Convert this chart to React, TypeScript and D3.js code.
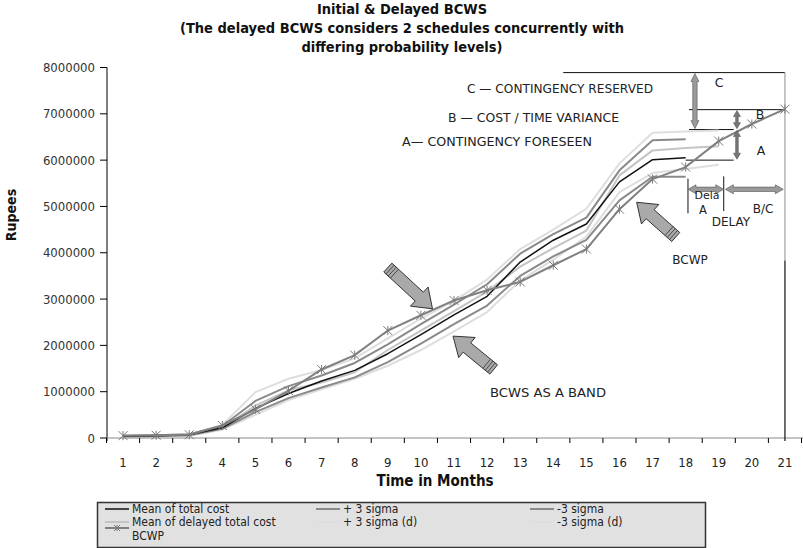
import React from "react";
import * as d3 from "d3";

// ---------- DATA ----------
const months = [1, 2, 3, 4, 5, 6, 7, 8, 9, 10, 11, 12, 13, 14, 15, 16, 17, 18, 19, 20, 21];
const yTickValues = [0, 1000000, 2000000, 3000000, 4000000, 5000000, 6000000, 7000000, 8000000];

// initial schedule (months 1-18)
const meanTotal = [40000, 50000, 70000, 220000, 640000, 960000, 1230000, 1460000, 1820000, 2230000, 2660000, 3060000, 3800000, 4270000, 4620000, 5530000, 6010000, 6050000];
const plus3Sigma = [50000, 60000, 80000, 260000, 800000, 1120000, 1350000, 1620000, 2020000, 2460000, 2880000, 3320000, 3980000, 4400000, 4760000, 5780000, 6430000, 6450000];
const minus3Sigma = [30000, 40000, 60000, 200000, 560000, 860000, 1090000, 1310000, 1640000, 2040000, 2460000, 2860000, 3500000, 3920000, 4280000, 5130000, 5640000, 5640000];
// delayed schedule (months 1-19)
const meanDelayed = [40000, 50000, 70000, 210000, 700000, 1030000, 1200000, 1420000, 1900000, 2320000, 2740000, 3160000, 3700000, 4100000, 4480000, 5670000, 6210000, 6260000, 6300000];
const plus3SigmaD = [50000, 60000, 80000, 280000, 990000, 1280000, 1470000, 1720000, 2150000, 2580000, 2960000, 3420000, 4080000, 4500000, 4950000, 5930000, 6590000, 6620000, 6640000];
const minus3SigmaD = [30000, 40000, 50000, 180000, 500000, 820000, 1050000, 1280000, 1560000, 1900000, 2300000, 2720000, 3400000, 3850000, 4350000, 5310000, 5720000, 5810000, 5900000];
// earned value (months 1-21)
const bcwp = [50000, 60000, 70000, 270000, 620000, 1020000, 1480000, 1790000, 2320000, 2650000, 2970000, 3190000, 3370000, 3730000, 4080000, 4940000, 5590000, 5850000, 6410000, 6780000, 7100000];

const titleLines = [
  "Initial & Delayed BCWS",
  "(The delayed BCWS considers 2 schedules concurrently with",
  "differing probability levels)",
];

type Series = { name: string; values: number[]; color: string; width: number; marker?: boolean };

const series: Series[] = [
  { name: "-3 sigma (d)", values: minus3SigmaD, color: "#dedede", width: 2 },
  { name: "+ 3 sigma (d)", values: plus3SigmaD, color: "#dedede", width: 2 },
  { name: "Mean of delayed total cost", values: meanDelayed, color: "#c4c4c4", width: 2 },
  { name: "+ 3 sigma", values: plus3Sigma, color: "#8a8a8a", width: 2 },
  { name: "-3 sigma", values: minus3Sigma, color: "#8a8a8a", width: 2 },
  { name: "Mean of total cost", values: meanTotal, color: "#111111", width: 1.5 },
  { name: "BCWP", values: bcwp, color: "#808080", width: 2, marker: true },
];

const legendOrder = [
  ["Mean of total cost", "+ 3 sigma", "-3 sigma"],
  ["Mean of delayed total cost", "+ 3 sigma (d)", "-3 sigma (d)"],
  ["BCWP"],
];

const FONT = "'Liberation Sans Narrow', 'DejaVu Sans Condensed', 'Liberation Sans', sans-serif";
const BODY = "'DejaVu Sans', 'Liberation Sans', sans-serif";

const W = 803;
const H = 548;

const x = d3.scaleLinear().domain([0.5, 21.5]).range([106.5, 801.5]);
const y = d3.scaleLinear().domain([0, 8000000]).range([438, 67.5]);

function starPath(s: number) {
  return `M${-s},${-s}L${s},${s}M${-s},${s}L${s},${-s}M0,${-s}L0,${s}`;
}

function BlockArrow({ tail, tip }: { tail: [number, number]; tip: [number, number] }) {
  const [tx, ty] = [x(tail[0]), y(tail[1])];
  const [px, py] = [x(tip[0]), y(tip[1])];
  const dx = px - tx, dy = py - ty;
  const L = Math.hypot(dx, dy);
  const ux = dx / L, uy = dy / L;
  const nx = -uy, ny = ux;
  const sw = 6, hw = 13, hl = 18;
  const nk = L - hl;
  const pt = (a: number, b: number) => `${tx + ux * a + nx * b},${ty + uy * a + ny * b}`;
  const poly = [pt(0, -sw), pt(nk, -sw), pt(nk, -hw), pt(L, 0), pt(nk, hw), pt(nk, sw), pt(0, sw)].join(" ");
  const hatch = [3, 6, 9].map((a) => `M${pt(a, -sw)}L${pt(a, sw)}`).join("");
  return (
    <g>
      <polygon points={poly} fill="#a9a9a9" stroke="#333" strokeWidth={1} />
      <path d={hatch} stroke="#333" strokeWidth={0.8} fill="none" />
    </g>
  );
}

function DoubleArrowV({ mx, v1, v2, thick }: { mx: number; v1: number; v2: number; thick?: boolean }) {
  const cx = x(mx);
  const y1 = y(v1), y2 = y(v2);
  const w = thick ? 2.2 : 1.3;
  const hw = thick ? 4 : 3.5, hl = thick ? 8 : 6;
  const p = [
    [cx, y1], [cx + hw, y1 + hl], [cx + w, y1 + hl], [cx + w, y2 - hl], [cx + hw, y2 - hl], [cx, y2],
    [cx - hw, y2 - hl], [cx - w, y2 - hl], [cx - w, y1 + hl], [cx - hw, y1 + hl],
  ].map((d) => d.join(",")).join(" ");
  return <polygon points={p} fill={thick ? "#9a9a9a" : "#777"} stroke="#555" strokeWidth={0.6} />;
}

function DoubleArrowH({ m1, m2, v }: { m1: number; m2: number; v: number }) {
  const x1 = x(m1), x2 = x(m2), cy = y(v);
  const w = 2.2, hw = 4.5, hl = 8;
  const p = [
    [x1, cy], [x1 + hl, cy - hw], [x1 + hl, cy - w], [x2 - hl, cy - w], [x2 - hl, cy - hw], [x2, cy],
    [x2 - hl, cy + hw], [x2 - hl, cy + w], [x1 + hl, cy + w], [x1 + hl, cy + hw],
  ].map((d) => d.join(",")).join(" ");
  return <polygon points={p} fill="#9a9a9a" stroke="#555" strokeWidth={0.6} />;
}

export default function App() {
  const line = d3
    .line<number>()
    .x((_, i) => x(months[i]))
    .y((d) => y(d));

  const legendMap: Record<string, Series> = {};
  series.forEach((s) => (legendMap[s.name] = s));

  const colX = [105, 316, 530];
  const rowY = [509, 522, 536];

  return (
    <svg width={W} height={H} style={{ display: "block", position: "absolute", left: 0, top: 0, background: "#fff" }}>
      <rect x={0} y={0} width={W} height={H} fill="#fff" />
      {/* Title */}
      {titleLines.map((t, i) => (
        <text
          key={i}
          x={402}
          y={14 + i * 19}
          textAnchor="middle"
          fontFamily={FONT}
          fontWeight="bold"
          fontSize={14.5}
          fill="#111"
        >
          {t}
        </text>
      ))}

      {/* Y axis */}
      <line x1={107} x2={107} y1={y(8000000)} y2={441} stroke="#000" strokeWidth={1} />
      {yTickValues.map((v) => (
        <g key={v}>
          <line x1={100} x2={107} y1={y(v)} y2={y(v)} stroke="#000" strokeWidth={1} />
          <text x={95} y={y(v) + 4.5} textAnchor="end" fontFamily={FONT} fontSize={13} fill="#333">
            {v}
          </text>
        </g>
      ))}
      <text
        transform={`translate(16,${215}) rotate(-90)`}
        textAnchor="middle"
        fontFamily={FONT}
        fontWeight="bold"
        fontSize={14}
        fill="#111"
      >
        Rupees
      </text>

      {/* X axis */}
      <line x1={107} x2={803} y1={y(0)} y2={y(0)} stroke="#888" strokeWidth={1} />
      {months.map((m) => (
        <line key={"t" + m} x1={x(m - 0.5)} x2={x(m - 0.5)} y1={y(0)} y2={y(0) + 5} stroke="#000" strokeWidth={1} />
      ))}
      <line x1={x(21.5)} x2={x(21.5)} y1={y(0)} y2={y(0) + 5} stroke="#000" strokeWidth={1} />
      {months.map((m) => (
        <text key={"l" + m} x={x(m)} y={467} textAnchor="middle" fontFamily={FONT} fontSize={13} fill="#222">
          {m}
        </text>
      ))}
      <text x={435} y={486} textAnchor="middle" fontFamily={FONT} fontWeight="bold" fontSize={15} fill="#111">
        Time in Months
      </text>

      {/* Annotation frame lines */}
      <line x1={x(14.3)} x2={x(21)} y1={y(7890000)} y2={y(7890000)} stroke="#111" strokeWidth={1} />
      <line x1={x(21)} x2={x(21)} y1={y(7890000)} y2={y(3830000)} stroke="#a0a0a0" strokeWidth={1.2} />
      <line x1={x(21)} x2={x(21)} y1={y(3830000)} y2={441} stroke="#111" strokeWidth={1.2} />
      <line x1={x(18.1)} x2={x(21)} y1={y(7090000)} y2={y(7090000)} stroke="#111" strokeWidth={1} />
      <line x1={x(18.1)} x2={x(19.45)} y1={y(6660000)} y2={y(6660000)} stroke="#111" strokeWidth={1} />
      <line x1={x(18)} x2={x(19.45)} y1={y(6000000)} y2={y(6000000)} stroke="#111" strokeWidth={1} />
      <line x1={x(18.07)} x2={x(18.07)} y1={y(5600000)} y2={y(4850000)} stroke="#111" strokeWidth={1} />
      <line x1={x(19.15)} x2={x(19.15)} y1={y(5650000)} y2={y(4900000)} stroke="#111" strokeWidth={1} />

      {/* Series */}
      {series.map((s) => (
        <path key={s.name} d={line(s.values) || ""} fill="none" stroke={s.color} strokeWidth={s.width} strokeLinejoin="round" />
      ))}
      {bcwp.map((v, i) => (
        <path
          key={"m" + i}
          d={starPath(4.5)}
          transform={`translate(${x(months[i])},${y(v)})`}
          stroke="#7a7a7a"
          strokeWidth={1}
          fill="none"
        />
      ))}

      {/* Annotation arrows */}
      <DoubleArrowV mx={18.28} v1={7870000} v2={6680000} thick />
      <DoubleArrowV mx={19.55} v1={7070000} v2={6680000} />
      <DoubleArrowV mx={19.55} v1={6640000} v2={6020000} />
      <DoubleArrowH m1={18.07} m2={19.15} v={5370000} />
      <DoubleArrowH m1={19.2} m2={20.95} v={5370000} />

      <BlockArrow tail={[9.0, 3680000]} tip={[10.35, 2790000]} />
      <BlockArrow tail={[12.2, 1480000]} tip={[10.97, 2200000]} />
      <BlockArrow tail={[17.7, 4340000]} tip={[16.52, 5090000]} />

      {/* Annotation text */}
      <g fontFamily={BODY} fontSize={11.5} fill="#222">
        <text x={467} y={93} textLength={186} lengthAdjust="spacingAndGlyphs">C — CONTINGENCY RESERVED</text>
        <text x={448} y={122} textLength={171} lengthAdjust="spacingAndGlyphs">B — COST / TIME VARIANCE</text>
        <text x={402} y={146} textLength={190} lengthAdjust="spacingAndGlyphs">A— CONTINGENCY FORESEEN</text>
        <text x={719} y={87} textAnchor="middle" fontSize={12.5}>C</text>
        <text x={760} y={119} textAnchor="middle" fontSize={12.5}>B</text>
        <text x={761} y={155} textAnchor="middle" fontSize={12.5}>A</text>
        <text x={707} y={199} textAnchor="middle" fontSize={11}>Dela</text>
        <text x={703} y={214} textAnchor="middle" fontSize={11.5}>A</text>
        <text x={763} y={213} textAnchor="middle" fontSize={12}>B/C</text>
        <text x={731} y={226} textAnchor="middle" fontSize={12}>DELAY</text>
        <text x={690} y={264} textAnchor="middle" fontSize={12}>BCWP</text>
        <text x={490} y={397} textLength={116} lengthAdjust="spacingAndGlyphs" fontSize={12}>BCWS  AS  A  BAND</text>
      </g>

      {/* Legend */}
      <rect x={97.5} y={502.5} width={608} height={45} fill="#e1e1e1" stroke="#333" strokeWidth={1.5} />
      {legendOrder.map((row, ri) =>
        row.map((name, ci) => {
          const s = legendMap[name];
          const lx = colX[ci];
          const ly = rowY[ri];
          return (
            <g key={name}>
              <line x1={lx} x2={lx + 24} y1={ri === 2 ? ly - 8 : ly} y2={ri === 2 ? ly - 8 : ly} stroke={s.color} strokeWidth={s.width} />
              {s.marker && (
                <path d={starPath(3)} transform={`translate(${lx + 12},${ly - 8})`} stroke="#7a7a7a" strokeWidth={1} fill="none" />
              )}
              <text x={lx + 27} y={ly + 4} fontFamily={FONT} fontSize={12} fill="#222">
                {name}
              </text>
            </g>
          );
        })
      )}
    </svg>
  );
}
